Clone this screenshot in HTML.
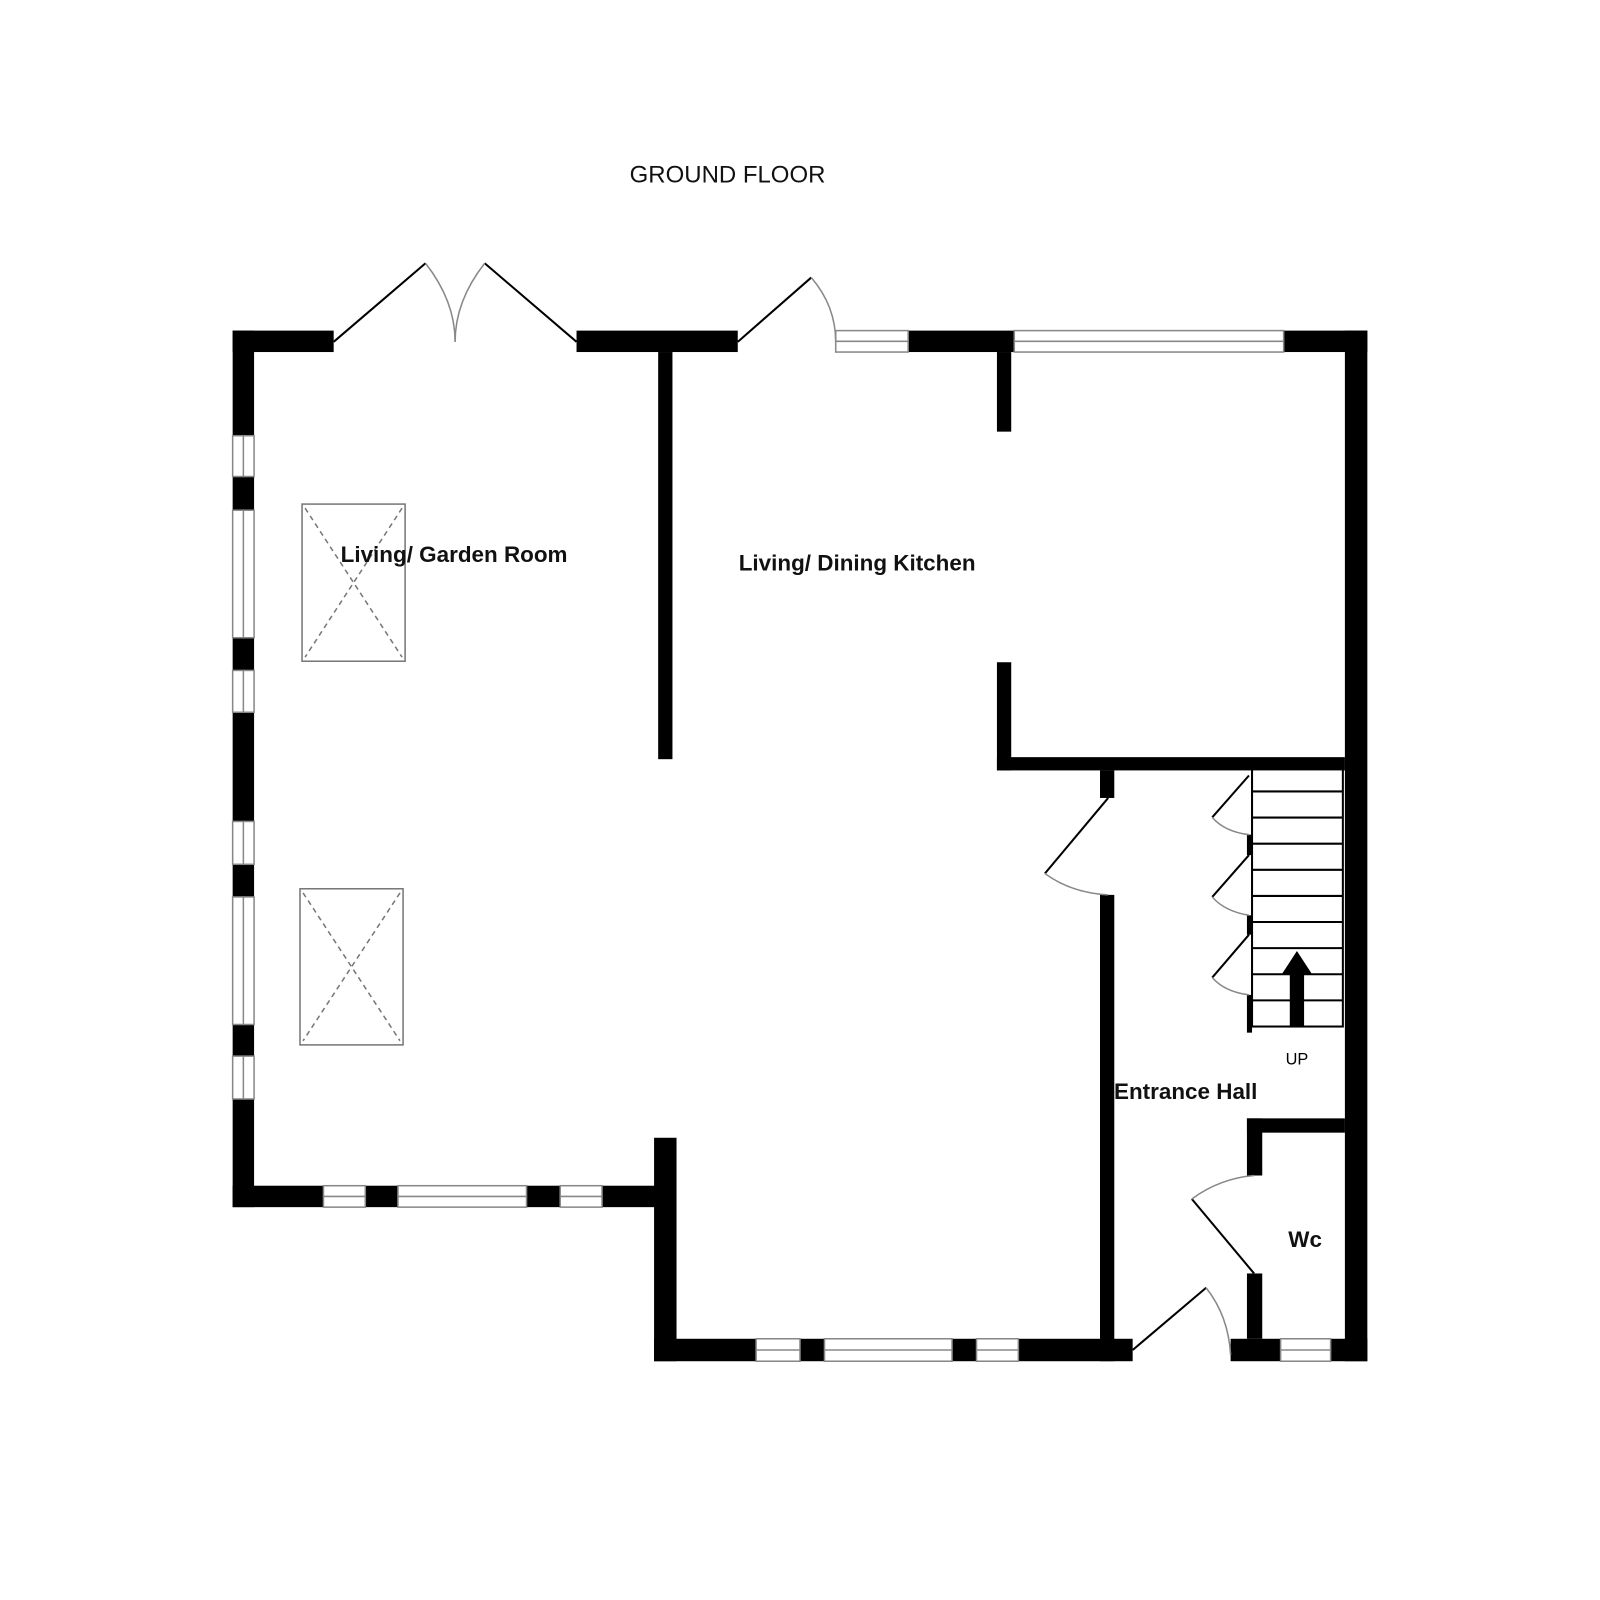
<!DOCTYPE html>
<html><head><style>html,body{margin:0;padding:0;background:#fff;}svg{display:block}</style></head>
<body>
<svg width="1600" height="1600" viewBox="0 0 1568 1568" xmlns="http://www.w3.org/2000/svg">
<rect width="1568" height="1568" fill="#fff"/>
<text x="713" y="179" font-family="Liberation Sans, sans-serif" font-size="23.5" text-anchor="middle" fill="#111">GROUND FLOOR</text>

<g fill="#000">
<rect x="228" y="324" width="99" height="21"/>
<rect x="565" y="324" width="158" height="21"/>
<rect x="645" y="345" width="14" height="399"/>
<rect x="890" y="324" width="104" height="21"/>
<rect x="1258" y="324" width="82" height="21"/>
<rect x="1318" y="324" width="22" height="1010"/>
<rect x="228" y="324" width="21" height="859"/>
<rect x="977" y="345" width="14" height="78"/>
<rect x="977" y="649" width="14" height="106"/>
<rect x="977" y="742" width="341" height="13"/>
<rect x="1078" y="755" width="14" height="27"/>
<rect x="1078" y="877" width="14" height="457"/>
<rect x="228" y="1162" width="431" height="21"/>
<rect x="641" y="1115" width="22" height="219"/>
<rect x="641" y="1312" width="469" height="22"/>
<rect x="1206" y="1312" width="134" height="22"/>
<rect x="1222" y="1096" width="15" height="56"/>
<rect x="1222" y="1096" width="96" height="14"/>
<rect x="1222" y="1248" width="15" height="64"/>
<rect x="1222" y="818" width="5" height="20"/>
<rect x="1222" y="897" width="5" height="19"/>
<rect x="1222" y="975" width="5" height="37"/>
</g>

<g fill="#fff" stroke="#888" stroke-width="1.5">
<rect x="228" y="427" width="21" height="40"/><line x1="238.5" y1="427" x2="238.5" y2="467"/>
<rect x="228" y="500" width="21" height="125"/><line x1="238.5" y1="500" x2="238.5" y2="625"/>
<rect x="228" y="657" width="21" height="41"/><line x1="238.5" y1="657" x2="238.5" y2="698"/>
<rect x="228" y="805" width="21" height="42"/><line x1="238.5" y1="805" x2="238.5" y2="847"/>
<rect x="228" y="879" width="21" height="125"/><line x1="238.5" y1="879" x2="238.5" y2="1004"/>
<rect x="228" y="1035" width="21" height="42"/><line x1="238.5" y1="1035" x2="238.5" y2="1077"/>
<rect x="317" y="1162" width="41" height="21"/><line x1="317" y1="1172.5" x2="358" y2="1172.5"/>
<rect x="390" y="1162" width="126" height="21"/><line x1="390" y1="1172.5" x2="516" y2="1172.5"/>
<rect x="549" y="1162" width="41" height="21"/><line x1="549" y1="1172.5" x2="590" y2="1172.5"/>
<rect x="741" y="1312" width="43" height="22"/><line x1="741" y1="1323" x2="784" y2="1323"/>
<rect x="808" y="1312" width="125" height="22"/><line x1="808" y1="1323" x2="933" y2="1323"/>
<rect x="957" y="1312" width="41" height="22"/><line x1="957" y1="1323" x2="998" y2="1323"/>
<rect x="1255" y="1312" width="49" height="22"/><line x1="1255" y1="1323" x2="1304" y2="1323"/>
<rect x="819" y="324" width="71" height="21"/><line x1="819" y1="334.5" x2="890" y2="334.5"/>
<rect x="994" y="324" width="264" height="21"/><line x1="994" y1="334.5" x2="1258" y2="334.5"/>
</g>

<g fill="none" stroke="#777" stroke-width="1.5">
<rect x="296" y="494" width="101" height="154"/>
<rect x="294" y="871" width="101" height="153"/>
</g>
<g fill="none" stroke="#777" stroke-width="1.5" stroke-dasharray="5,4">
<line x1="299" y1="498" x2="394" y2="644"/><line x1="394" y1="498" x2="299" y2="644"/>
<line x1="297" y1="875" x2="392" y2="1020"/><line x1="392" y1="875" x2="297" y2="1020"/>
</g>

<g stroke="#000" stroke-width="2" fill="none">
<rect x="1227" y="750" width="89" height="256"/>
<line x1="1227" y1="775.6" x2="1316" y2="775.6"/>
<line x1="1227" y1="801.2" x2="1316" y2="801.2"/>
<line x1="1227" y1="826.8" x2="1316" y2="826.8"/>
<line x1="1227" y1="852.4" x2="1316" y2="852.4"/>
<line x1="1227" y1="878" x2="1316" y2="878"/>
<line x1="1227" y1="903.6" x2="1316" y2="903.6"/>
<line x1="1227" y1="929.2" x2="1316" y2="929.2"/>
<line x1="1227" y1="954.8" x2="1316" y2="954.8"/>
<line x1="1227" y1="980.4" x2="1316" y2="980.4"/>
</g>
<rect x="1264" y="952" width="14" height="54" fill="#000"/>
<polygon points="1256,955 1271,932 1286,955" fill="#000"/>
<text x="1271" y="1043" font-family="Liberation Sans, sans-serif" font-size="16" text-anchor="middle">UP</text>

<g stroke="#000" stroke-width="2" fill="none">
<line x1="327" y1="335" x2="417" y2="258"/>
<line x1="565" y1="335" x2="475" y2="258"/>
<line x1="723" y1="335" x2="795" y2="272"/>
<line x1="1086" y1="782" x2="1024" y2="856"/>
<line x1="1110" y1="1323" x2="1182" y2="1262"/>
<line x1="1229" y1="1248" x2="1168" y2="1175"/>
<line x1="1224" y1="760" x2="1188" y2="801"/>
<line x1="1224" y1="838" x2="1188" y2="879"/>
<line x1="1224" y1="916" x2="1188" y2="958"/>
</g>
<g stroke="#888" stroke-width="1.5" fill="none">
<path d="M417,258 Q446,295 446,335"/>
<path d="M475,258 Q446,295 446,335"/>
<path d="M795,272 Q819,300 819,335"/>
<path d="M1024,856 Q1050,875 1086,877"/>
<path d="M1182,1262 Q1204,1290 1206,1328"/>
<path d="M1168,1175 Q1195,1155 1229,1152"/>
<path d="M1188,801 Q1200,815 1224,818"/>
<path d="M1188,879 Q1200,893 1224,897"/>
<path d="M1188,958 Q1200,972 1224,975"/>
</g>

<g font-family="Liberation Sans, sans-serif" font-size="22" font-weight="bold" fill="#111">
<text x="445" y="551" text-anchor="middle">Living/ Garden Room</text>
<text x="840" y="559" text-anchor="middle">Living/ Dining Kitchen</text>
<text x="1162" y="1077" text-anchor="middle">Entrance Hall</text>
<text x="1279" y="1222" text-anchor="middle">Wc</text>
</g>
</svg>
</body></html>
